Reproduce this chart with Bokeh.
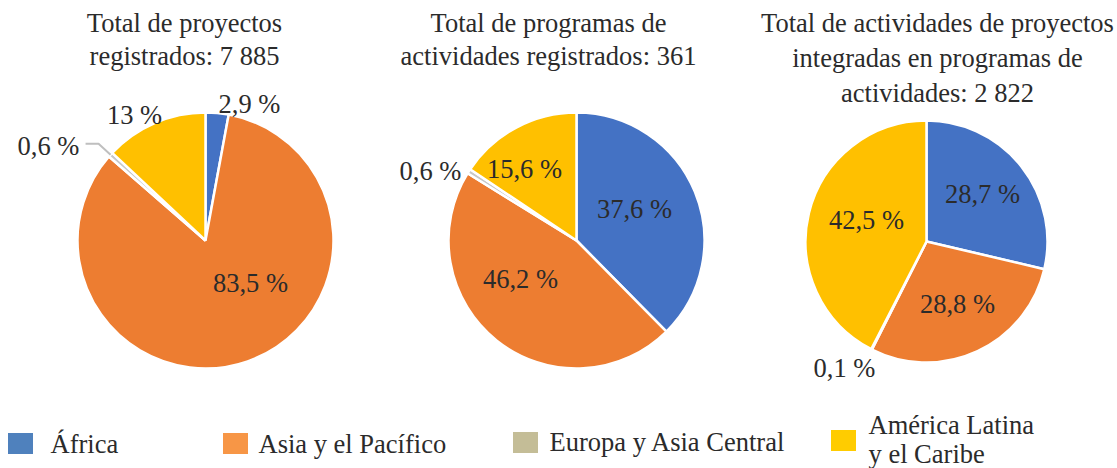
import math
from bokeh.plotting import figure
from bokeh.models import Range1d, ColumnDataSource
from bokeh.core.properties import value
from bokeh.embed import file_html
from bokeh.resources import INLINE

# ---------------- data ----------------
regions = ["África", "Asia y el Pacífico", "Europa y Asia Central", "América Latina y el Caribe"]
legend_lines = [["África"], ["Asia y el Pacífico"], ["Europa y Asia Central"],
                ["América Latina", "y el Caribe"]]
proyectos = [2.9, 83.5, 0.6, 13.0]
programas = [37.6, 46.2, 0.6, 15.6]
actividades = [28.7, 28.8, 0.1, 42.5]
titles = [
    ["Total de proyectos", "registrados: 7 885"],
    ["Total de programas de", "actividades registrados: 361"],
    ["Total de actividades de proyectos", "integradas en programas de", "actividades: 2 822"],
]

# ---------------- styles / layout ----------------
slice_colors = ["#4472C4", "#ED7D31", "#C8C8C8", "#FFC000"]
legend_colors = ["#4F81BD", "#F79646", "#C4BD97", "#FFCC00"]
TEXT = "#2b2b2b"
FONT = value("Liberation Serif")
FS = value("26.5px")

W, H = 1117, 468
def X(x):  # image x -> data
    return x
def Y(y):  # image y -> data
    return H - y

# label offsets are glyph-centre positions relative to the pie centre
pies = [
    dict(vals=proyectos, cx=205, cy=240, r=128,
         lab=[(44, -137), (45, 42), (-157, -95), (-71, -126)],
         title_x=184, title_y=[22, 55]),
    dict(vals=programas, cx=576, cy=240, r=128,
         lab=[(58, -32), (-56, 38), (-146, -70), (-52, -72)],
         title_x=548, title_y=[22, 55]),
    dict(vals=actividades, cx=926, cy=241, r=121,
         lab=[(56, -48), (31, 62), (-82, 126), (-60, -22)],
         title_x=937, title_y=[22, 57, 92]),
]

def fmt(v):
    if abs(v - round(v)) < 1e-9:
        return f"{int(round(v))} %"
    return f"{v:.1f}".replace(".", ",") + " %"

p = figure(width=W, height=H, x_range=Range1d(0, W), y_range=Range1d(0, H),
           output_backend="svg", toolbar_location=None, min_border=0,
           x_axis_type=None, y_axis_type=None)
p.grid.visible = False
p.outline_line_color = None
p.background_fill_color = "white"
p.border_fill_color = "white"

for k, pie in enumerate(pies):
    vals = pie["vals"]
    total = sum(vals)
    starts, ends, xs, ys, rs = [], [], [], [], []
    cum = 0.0
    mids = []
    for v in vals:
        c0 = cum / total
        cum += v
        c1 = cum / total
        starts.append(math.pi / 2 - 2 * math.pi * c1)
        ends.append(math.pi / 2 - 2 * math.pi * c0)
        mids.append((c0 + c1) / 2)
        xs.append(X(pie["cx"]))
        ys.append(Y(pie["cy"]))
        rs.append(pie["r"])
    src = ColumnDataSource(dict(x=xs, y=ys, r=rs, s=starts, e=ends, c=slice_colors, name=regions))
    p.wedge(x="x", y="y", radius="r", start_angle="s", end_angle="e",
            fill_color="c", line_color="white", line_width=2.5, source=src)

    # labels
    lx = [X(pie["cx"] + dx) for dx, dy in pie["lab"]]
    ly = [Y(pie["cy"] + dy) for dx, dy in pie["lab"]]
    p.text(x=lx, y=ly, text=[fmt(v) for v in vals], text_font=FONT, text_font_size=FS,
           text_align="center", text_baseline="middle", text_color=TEXT)

    # leader line for the small slice in the first pie
    if k == 0:
        m = mids[2]
        ang = 2 * math.pi * m
        ex = pie["cx"] + pie["r"] * math.sin(ang)
        ey = pie["cy"] - pie["r"] * math.cos(ang)
        p.line(x=[X(ex), X(ex - 12), X(ex - 25)], y=[Y(ey), Y(ey - 11), Y(ey - 11)],
               line_color="#BFBFBF", line_width=2)

    # title
    p.text(x=[X(pie["title_x"])] * len(titles[k]), y=[Y(t) for t in pie["title_y"]],
           text=titles[k], text_font=FONT, text_font_size=FS,
           text_align="center", text_baseline="middle", text_color=TEXT)

# legend
leg_sq_x = [20, 235, 525, 843]
leg_sq_y = [443, 443, 442, 440]
leg_tx = [50, 258, 549, 868]
leg_ty = [[443], [443], [441], [424, 453]]
p.rect(x=[X(v) for v in leg_sq_x], y=[Y(v) for v in leg_sq_y], width=25, height=21,
       fill_color=legend_colors, line_color=None)
tx, ty, tt = [], [], []
for i, lines in enumerate(legend_lines):
    for j, line in enumerate(lines):
        tx.append(X(leg_tx[i]))
        ty.append(Y(leg_ty[i][j]))
        tt.append(line)
p.text(x=tx, y=ty, text=tt, text_font=FONT, text_font_size=FS,
       text_align="left", text_baseline="middle", text_color=TEXT)

open("out.html", "w").write(file_html(p, INLINE))
